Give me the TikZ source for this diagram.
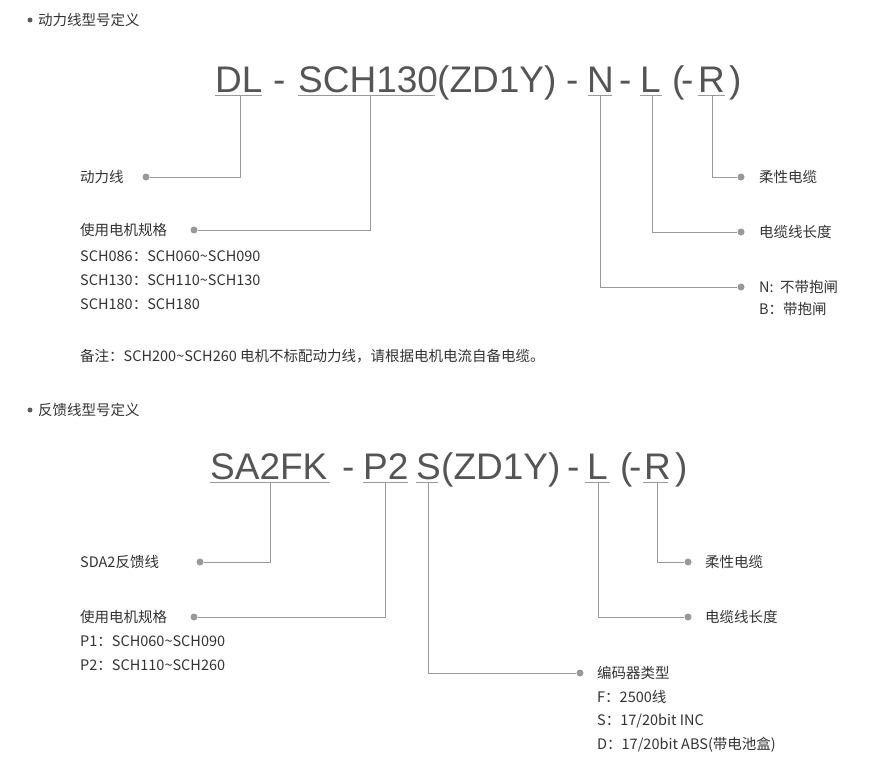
\documentclass[tikz,border=0pt]{standalone}
\usepackage{fontspec}
\setmainfont{Liberation Sans}
\newfontfamily\cjk{Noto Sans CJK SC}
\usetikzlibrary{positioning}
\definecolor{code}{HTML}{555555}
\definecolor{wire}{HTML}{999999}
\definecolor{txt}{HTML}{333333}

\begin{document}
\begin{tikzpicture}
			[
				x=1pt, y=-1pt,
				big/.style={anchor=base west, inner sep=0pt, text=code, font=\fontsize{37}{40}\selectfont},
				small/.style={anchor=west, inner sep=0pt, text=txt, font=\cjk\fontsize{14.5}{16}\selectfont},
				wireline/.style={wire, line width=0.8pt},
				dot/.style={circle, fill=wire, inner sep=0pt, minimum size=7pt}
			]
			\useasboundingbox (0,0) rectangle (870,777);

			% headers
			\node[dot, minimum size=5pt, fill=txt!80] (b1) at (30,20) {};
			\node[small] (h1) at (38,20) {动力线型号定义};
			\node[dot, minimum size=5pt, fill=txt!80] (b2) at (30,410) {};
			\node[small] (h2) at (38,410) {反馈线型号定义};

			% code line 1
			\foreach \x/\t/\n in {215/DL/dl,273/-/d1,298/SCH130/sch,437/{(ZD1Y)}/zd,566/-/d2,587/N/n,619/-/d3,640/L/l,672/{(}/p1,681/-/d4,698/R/r,729/{)}/p2}
			\node[big] (\n) at (\x,92) {\t};

			% code line 2
			\foreach \x/\t/\n in {210/SA2FK/sa,342/-/e1,363/P2/ptwo,416/S/s,441/{(ZD1Y)}/zz,567/-/e2,587/L/ll,620/{(}/q1,629/-/e3,644/R/rr,675/{)}/q2}
			\node[big] (\n) at (\x,479) {\t};

			% underlines
			\foreach \a/\b in {215/262,298/435,588/612,640/662,698/725}
			\draw[wireline] (\a,95) -- (\b,95);
			\foreach \a/\b in {210/330,363/408,416/438,585/610,643/668}
			\draw[wireline] (\a,482) -- (\b,482);

			% dots line 1
			\node[dot] (k1) at (146,177) {};
			\node[dot] (k2) at (194,230) {};
			\node[dot] (k3) at (741,177) {};
			\node[dot] (k4) at (741,232) {};
			\node[dot] (k5) at (741,287) {};
			\coordinate (t1) at (240,95);
			\coordinate (t2) at (370,95);
			\coordinate (t3) at (712,95);
			\coordinate (t4) at (652,95);
			\coordinate (t5) at (600,95);
			\foreach \t/\k in {t1/k1,t2/k2,t3/k3,t4/k4,t5/k5}
			\draw[wireline] (\t) |- (\k);

			% labels line 1
			\node[small] (l1) at (80,177) {动力线};
			\node[small] (l2) at (80,230) {使用电机规格};
			\node[small] (l2a) at (80,256) {SCH086：SCH060\textasciitilde SCH090};
			\node[small] (l2b) at (80,280) {SCH130：SCH110\textasciitilde SCH130};
			\node[small] (l2c) at (80,304) {SCH180：SCH180};
			\node[small] (l3) at (759,177) {柔性电缆};
			\node[small] (l4) at (759,232) {电缆线长度};
			\node[small] (l5) at (759,287) {N:\ \ 不带抱闸};
			\node[small] (l5a) at (759,309) {B：带抱闸};
			\node[small] (note) at (80,356) {备注：SCH200\textasciitilde SCH260 电机不标配动力线，请根据电机电流自备电缆。};

			% dots line 2
			\node[dot] (m1) at (200,562) {};
			\node[dot] (m2) at (194,617) {};
			\node[dot] (m3) at (580,673) {};
			\node[dot] (m4) at (688,617) {};
			\node[dot] (m5) at (688,562) {};
			\coordinate (u1) at (270,482);
			\coordinate (u2) at (385,482);
			\coordinate (u3) at (428,482);
			\coordinate (u4) at (598,482);
			\coordinate (u5) at (657,482);
			\foreach \t/\k in {u1/m1,u2/m2,u3/m3,u4/m4,u5/m5}
			\draw[wireline] (\t) |- (\k);

			% labels line 2
			\node[small] (n1) at (80,562) {SDA2反馈线};
			\node[small] (n2) at (80,617) {使用电机规格};
			\node[small] (n2a) at (80,641) {P1：SCH060\textasciitilde SCH090};
			\node[small] (n2b) at (80,665) {P2：SCH110\textasciitilde SCH260};
			\node[small] (n3) at (597,673) {编码器类型};
			\node[small] (n3a) at (597,697) {F：2500线};
			\node[small] (n3b) at (597,721) {S：17/20bit INC};
			\node[small] (n3c) at (597,745) {D：17/20bit ABS(带电池盒)};
			\node[small] (n4) at (705,617) {电缆线长度};
			\node[small] (n5) at (705,562) {柔性电缆};

		\end{tikzpicture}
\end{document}
